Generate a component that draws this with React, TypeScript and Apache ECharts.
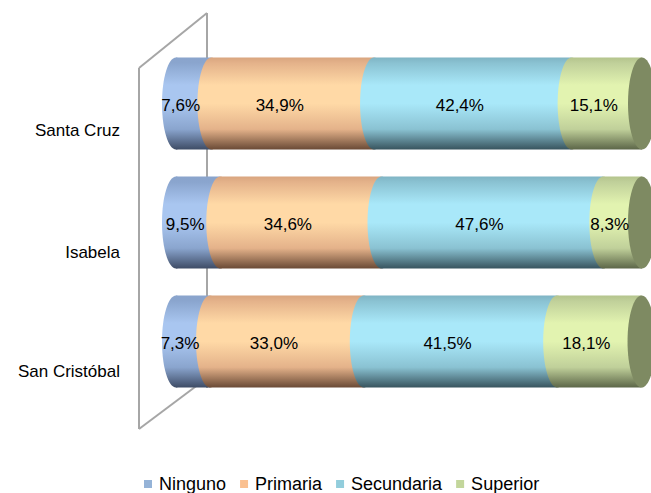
import React, { useEffect, useRef } from "react";
import * as echarts from "echarts";

const categories = ["Santa Cruz", "Isabela", "San Cristóbal"];
const seriesNames = ["Ninguno", "Primaria", "Secundaria", "Superior"];
const ninguno = [7.6, 9.5, 7.3];
const primaria = [34.9, 34.6, 33.0];
const secundaria = [42.4, 47.6, 41.5];
const superior = [15.1, 8.3, 18.1];
const seriesValues = [ninguno, primaria, secundaria, superior];

const FONT = '"Liberation Sans", Arial, sans-serif';
const BAR_H = 92;
const RX = 14;

const legendColors = ["#95B3D7", "#FAC090", "#92CDDC", "#C3D69B"];
// [top edge, highlight, mid, dark bottom]
const shades = [
  ["#8AA4CC", "#A9C6F0", "#8AA5CE", "#3E4C66"],
  ["#D9A57F", "#FFD9A6", "#E4B28A", "#6A4A36"],
  ["#7FB4C4", "#A9E8F9", "#8AC2D2", "#38545E"],
  ["#B4C48C", "#E2F3B0", "#C0D09A", "#5C6648"],
];
const faceColor = "#7E8A62";

const grad = (s: string[]) =>
  new echarts.graphic.LinearGradient(0, 0, 0, 1, [
    { offset: 0, color: s[0] },
    { offset: 0.06, color: s[2] },
    { offset: 0.3, color: s[1] },
    { offset: 0.5, color: s[1] },
    { offset: 0.78, color: s[2] },
    { offset: 1, color: s[3] },
  ]);

const fmt = (v: number) => v.toFixed(1).replace(".", ",") + "%";

export default function App() {
  const ref = useRef<HTMLDivElement>(null);
  useEffect(() => {
    if (!ref.current) return;
    const chart = echarts.init(ref.current, null, { renderer: "svg" });

    // cap/label items: [start, catIndex, end, segIndex, value]
    const capData: number[][] = [];
    categories.forEach((_, ci) => {
      let acc = 0;
      seriesValues.forEach((vals, si) => {
        capData.push([acc, ci, acc + vals[ci], si, vals[ci]]);
        acc += vals[ci];
      });
      capData.push([acc, ci, acc, 4, 0]);
    });

    const gradients = shades.map(grad);

    const barSeries = seriesNames.map((name, si) => ({
      name,
      type: "bar",
      stack: "total",
      barWidth: BAR_H,
      silent: true,
      z: 2,
      itemStyle: { color: gradients[si] },
      label: { show: false },
      emphasis: { disabled: true },
      data: seriesValues[si],
    }));

    const option: any = {
      animation: false,
      textStyle: { fontFamily: FONT },
      grid: { left: 176, right: 9, top: 44, height: 357, containLabel: false },
      xAxis: { type: "value", min: 0, max: 100, show: false },
      yAxis: {
        type: "category",
        inverse: true,
        data: categories,
        axisLine: { show: false },
        axisTick: { show: false },
        splitLine: { show: false },
        axisLabel: {
          margin: 56,
          formatter: (v: string, i: number) => `{c${i}|${v}}`,
          rich: {
            c0: { fontSize: 17, color: "#000", fontFamily: FONT, padding: [54, 0, 0, 0] },
            c1: { fontSize: 17, color: "#000", fontFamily: FONT, padding: [59, 0, 0, 0] },
            c2: { fontSize: 17, color: "#000", fontFamily: FONT, padding: [60, 0, 0, 0] },
          },
        },
      },
      legend: {
        left: 139,
        top: 470,
        icon: "rect",
        itemWidth: 8,
        itemHeight: 8,
        itemGap: 14,
        selectedMode: false,
        textStyle: { fontSize: 18, color: "#000", fontFamily: FONT, padding: [0, 0, 0, 2] },
        data: seriesNames.map((n, i) => ({ name: n, itemStyle: { color: legendColors[i] } })),
      },
      graphic: [
        { type: "line", z: 0, shape: { x1: 139, y1: 68, x2: 139, y2: 429 }, style: { stroke: "#A6A6A6", lineWidth: 2 } },
        { type: "line", z: 0, shape: { x1: 207, y1: 13, x2: 207, y2: 388 }, style: { stroke: "#A6A6A6", lineWidth: 2 } },
        { type: "line", z: 0, shape: { x1: 139, y1: 68, x2: 207, y2: 13 }, style: { stroke: "#A6A6A6", lineWidth: 2 } },
        { type: "line", z: 0, shape: { x1: 139, y1: 429, x2: 207, y2: 378 }, style: { stroke: "#A6A6A6", lineWidth: 2 } },
      ],
      series: [
        ...barSeries,
        {
          type: "custom",
          z: 3,
          silent: true,
          clip: false,
          data: capData,
          encode: { x: [0, 2], y: 1 },
          renderItem: (_params: any, api: any) => {
            const start = api.value(0);
            const cat = api.value(1);
            const end = api.value(2);
            const seg = api.value(3);
            const val = api.value(4);
            const p0 = api.coord([start, cat]);
            const p1 = api.coord([end, cat]);
            const cy = p0[1];
            if (seg === 4) {
              return {
                type: "ellipse",
                z2: 1,
                shape: { cx: p0[0], cy, rx: RX, ry: BAR_H / 2 },
                style: { fill: faceColor },
              };
            }
            return {
              type: "group",
              children: [
                {
                  type: "ellipse",
                  z2: 0,
                  shape: { cx: p0[0], cy, rx: RX, ry: BAR_H / 2 },
                  style: { fill: gradients[seg] },
                },
                {
                  type: "text",
                  z2: 10,
                  style: {
                    text: fmt(val),
                    x: (p0[0] + p1[0]) / 2 - 13,
                    y: cy + 2,
                    fill: "#000",
                    font: `17px ${FONT}`,
                    align: "center",
                    verticalAlign: "middle",
                  },
                },
              ],
            };
          },
        },
      ],
    };
    chart.setOption(option);
    return () => chart.dispose();
  }, []);
  return (
    <div
      ref={ref}
      style={{ position: "fixed", left: 0, top: 0, width: 651, height: 493, background: "#fff" }}
    />
  );
}
